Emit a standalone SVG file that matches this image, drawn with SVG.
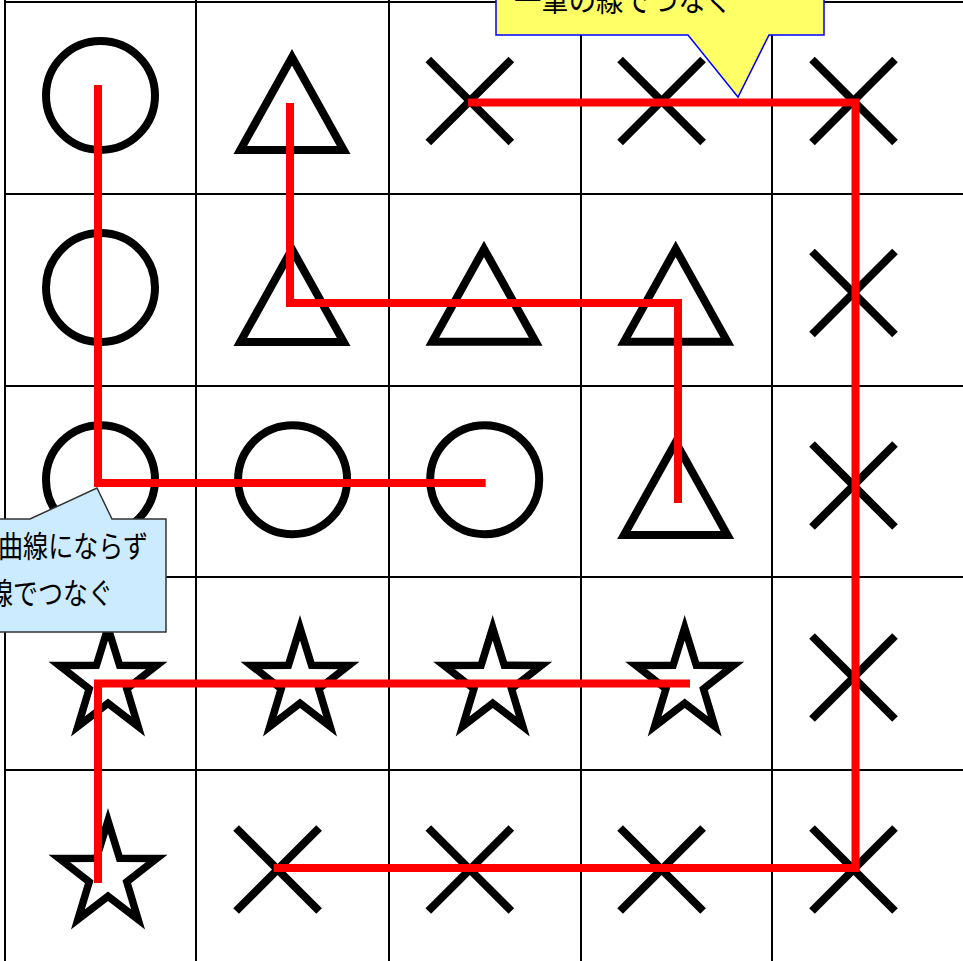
<svg xmlns="http://www.w3.org/2000/svg" xmlns:xlink="http://www.w3.org/1999/xlink" width="963" height="961" viewBox="0 0 963 961">
<style>
.grid line{stroke:#000;stroke-width:2}
.shape{fill:none;stroke:#000;stroke-width:8;stroke-linejoin:miter;stroke-miterlimit:10}
.star{fill:none;stroke:#000;stroke-width:7.5;stroke-linejoin:miter;stroke-miterlimit:10}
.xs{stroke:#000;stroke-width:8;stroke-linecap:butt}
.red{fill:none;stroke:#FF0000;stroke-width:8;stroke-linejoin:miter;stroke-linecap:butt}
.lbl{font-family:"Noto Sans CJK JP","Noto Sans",sans-serif;font-size:30px;fill:#000}
</style>
<defs>
<circle id="circ" r="54.5" class="shape"/>
<path id="tri" d="M0,8.2 L51.7,101 L-51.7,101 Z" class="shape"/>
<path id="star" d="M0,-54.5 L11.6,-17 L48.7,-16.8 L18.8,6.5 L30.1,44.1 L0,21 L-30.1,44.1 L-18.8,6.5 L-48.7,-16.8 L-11.6,-17 Z" class="star"/>
<g id="cross" class="xs"><line x1="-41.5" y1="-41.5" x2="41.5" y2="41.5"/><line x1="41.5" y1="-41.5" x2="-41.5" y2="41.5"/></g>
</defs>
<rect width="963" height="961" fill="#fff"/>
<g id="grid" class="grid">
<line x1="5" y1="0" x2="5" y2="961"/>
<line x1="196" y1="0" x2="196" y2="961"/>
<line x1="389" y1="0" x2="389" y2="961"/>
<line x1="581" y1="0" x2="581" y2="961"/>
<line x1="772" y1="0" x2="772" y2="961"/>
<line x1="5" y1="2" x2="963" y2="2"/>
<line x1="5" y1="194" x2="963" y2="194"/>
<line x1="5" y1="386" x2="963" y2="386"/>
<line x1="5" y1="577" x2="963" y2="577"/>
<line x1="5" y1="770" x2="963" y2="770"/>
</g>
<g id="r0c0"><use xlink:href="#circ" x="100.5" y="95.5"/></g>
<g id="r0c1"><use xlink:href="#tri" x="292" y="49"/></g>
<g id="r0c2"><use xlink:href="#cross" x="469.8" y="101"/></g>
<g id="r0c3"><use xlink:href="#cross" x="661.6" y="101"/></g>
<g id="r0c4"><use xlink:href="#cross" x="853.5" y="101"/></g>
<g id="r1c0"><use xlink:href="#circ" x="100.5" y="287.6"/></g>
<g id="r1c1"><use xlink:href="#tri" x="292" y="241"/></g>
<g id="r1c2"><use xlink:href="#tri" x="484" y="240.7"/></g>
<g id="r1c3"><use xlink:href="#tri" x="675.7" y="240.7"/></g>
<g id="r1c4"><use xlink:href="#cross" x="853.5" y="293"/></g>
<g id="r2c0"><use xlink:href="#circ" x="100.5" y="479.7"/></g>
<g id="r2c1"><use xlink:href="#circ" x="292.6" y="479.7"/></g>
<g id="r2c2"><use xlink:href="#circ" x="484.7" y="479.7"/></g>
<g id="r2c3"><use xlink:href="#tri" x="675.7" y="434"/></g>
<g id="r2c4"><use xlink:href="#cross" x="853.5" y="485.5"/></g>
<g id="r3c0"><use xlink:href="#star" x="108" y="682.3"/></g>
<g id="r3c1"><use xlink:href="#star" x="300" y="682.3"/></g>
<g id="r3c2"><use xlink:href="#star" x="492.7" y="682.3"/></g>
<g id="r3c3"><use xlink:href="#star" x="684.7" y="682.3"/></g>
<g id="r3c4"><use xlink:href="#cross" x="853.5" y="677.5"/></g>
<g id="r4c0"><use xlink:href="#star" x="108" y="875.3"/></g>
<g id="r4c1"><use xlink:href="#cross" x="277.6" y="869.5"/></g>
<g id="r4c2"><use xlink:href="#cross" x="469.8" y="869.5"/></g>
<g id="r4c3"><use xlink:href="#cross" x="661.6" y="869.5"/></g>
<g id="r4c4"><use xlink:href="#cross" x="853.5" y="869.5"/></g>
<g id="connectors" class="red">
<polyline points="98,85 98,483 485.7,483"/>
<polyline points="290,103 290,303 678,303 678,503"/>
<polyline points="468,102.5 855.5,102.5 855.5,868 273.7,868"/>
<polyline points="690,683.5 98,683.5 98,883"/>
</g>
<g id="callout-top">
<path d="M496,-5 L824,-5 L824,35 L769,35 L738,97 L688,35 L496,35 Z" fill="#FFFF66" stroke="#0000FF" stroke-width="1.5"/>
<text class="lbl" x="514" y="11" textLength="219" lengthAdjust="spacingAndGlyphs">一筆の線でつなぐ</text>
</g>
<g id="callout-bottom">
<path d="M-5,519 L30,519 L97,488 L112,519 L166,519 L166,632 L-5,632 Z" fill="#CCEBFF" stroke="#333" stroke-width="1.5"/>
<text class="lbl" x="-2" y="557" textLength="150" lengthAdjust="spacingAndGlyphs">曲線にならず</text>
<text class="lbl" x="-12" y="604" textLength="125" lengthAdjust="spacingAndGlyphs">線でつなぐ</text>
</g>
</svg>
